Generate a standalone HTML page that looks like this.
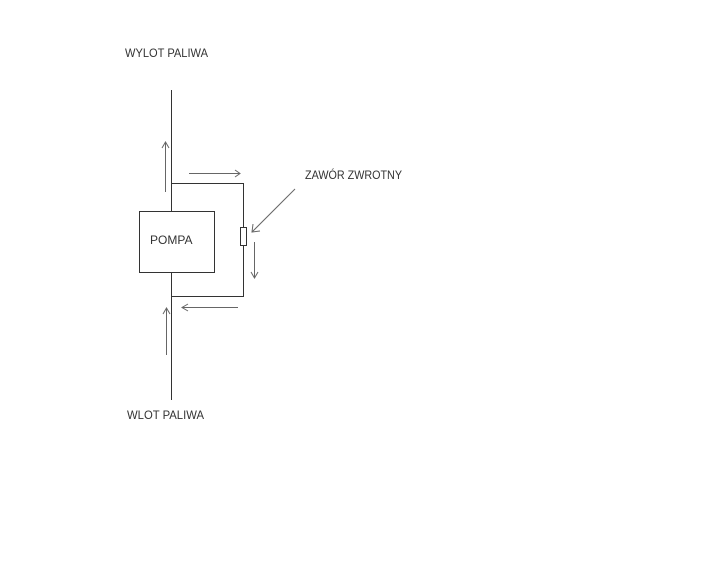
<!DOCTYPE html>
<html><head><meta charset="utf-8"><style>
html,body{margin:0;padding:0;background:#fff;}
svg{display:block;}
text{font-family:"Liberation Sans",Arial,sans-serif;font-size:12px;fill:#333;}
</style></head><body>
<svg width="720" height="578" viewBox="0 0 720 578" xmlns="http://www.w3.org/2000/svg">
<rect width="720" height="578" fill="#fff"/>
<g stroke="#333" stroke-width="1" fill="none">
<line x1="171.5" y1="90" x2="171.5" y2="211"/>
<line x1="171.5" y1="272" x2="171.5" y2="400"/>
<rect x="139.5" y="211.5" width="75" height="61"/>
<polyline points="171.5,183.5 243.5,183.5 243.5,227"/>
<polyline points="243.5,246 243.5,296.5 171.5,296.5"/>
<rect x="240.5" y="227.5" width="6" height="18"/>
</g>
<g stroke="#666" stroke-width="1" fill="none">
<line x1="165.5" y1="192" x2="165.5" y2="142"/>
<polyline points="162,148 165.5,142 169,148"/>
<line x1="189" y1="173.5" x2="240" y2="173.5"/>
<polyline points="235,170 240,173.5 235,177"/>
<line x1="254.5" y1="242" x2="254.5" y2="278"/>
<polyline points="251,272 254.5,278 258,272"/>
<line x1="238" y1="307.5" x2="182" y2="307.5"/>
<polyline points="188,304 182,307.5 188,311"/>
<line x1="166.5" y1="355" x2="166.5" y2="308"/>
<polyline points="163,314 166.5,308 170,314"/>
<line x1="295" y1="189" x2="252" y2="232"/>
<polyline points="253,224 252,232 260,231"/>
</g>
<text x="125" y="57" textLength="83" lengthAdjust="spacingAndGlyphs">WYLOT PALIWA</text>
<text x="305" y="179" textLength="97" lengthAdjust="spacingAndGlyphs">ZAWÓR ZWROTNY</text>
<text x="150" y="244">POMPA</text>
<text x="127" y="419" textLength="77" lengthAdjust="spacingAndGlyphs">WLOT PALIWA</text>
</svg>
</body></html>
